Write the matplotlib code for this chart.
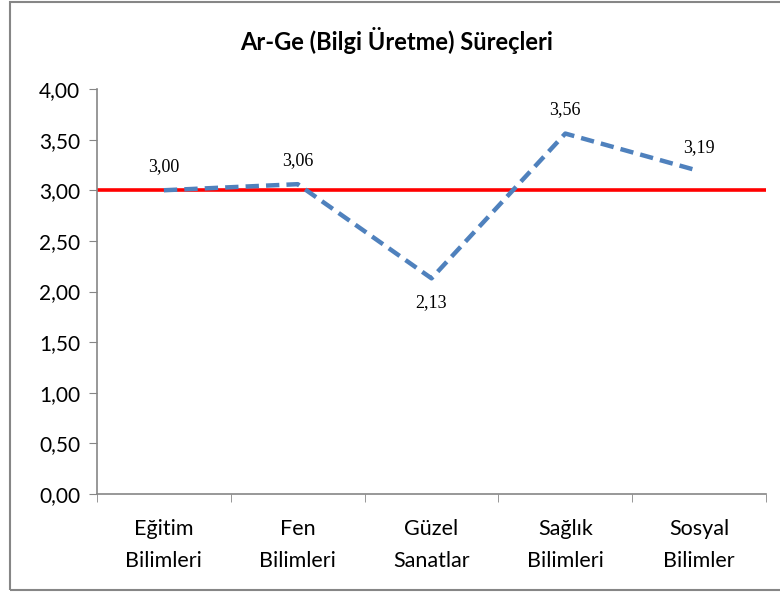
import matplotlib
matplotlib.use("Agg")
import matplotlib.pyplot as plt
from matplotlib.patches import Rectangle
from matplotlib.ticker import FixedLocator, FuncFormatter

categories = ["Eğitim\nBilimleri", "Fen\nBilimleri", "Güzel\nSanatlar",
              "Sağlık\nBilimleri", "Sosyal\nBilimler"]
values = [3.00, 3.06, 2.13, 3.56, 3.19]
reference = 3.00
yticks = [0, 0.5, 1.0, 1.5, 2.0, 2.5, 3.0, 3.5, 4.0]

SANS = ["Lato", "DejaVu Sans"]
SERIF = ["Liberation Serif", "DejaVu Serif"]

fig = plt.figure(figsize=(7.8, 5.96), dpi=100)
fig.patches.append(Rectangle((10 / 780, 6 / 596), 1.0, 588 / 596,
                             transform=fig.transFigure, fill=False,
                             edgecolor="#868686", lw=1.5))
ax = fig.add_axes([97 / 780, 1 - 494 / 596, 669 / 780, 405 / 596])

x = list(range(len(categories)))
ax.axhline(reference, color="#FF0000", lw=2.6, zorder=2)
ax.plot(x, values, color="#4F81BD", lw=3.2, dashes=(3, 1.6), zorder=3)

for xi, v in zip(x, values):
    dy = -11 if v < reference else 11
    ax.annotate(f"{v:.2f}".replace(".", ","), (xi, v), xytext=(0, dy),
                textcoords="offset points", ha="center",
                va="top" if dy < 0 else "bottom",
                fontsize=13, family=SERIF)

ax.set_xlim(-0.5, len(categories) - 0.5)
ax.set_ylim(0, 4)
ax.set_yticks(yticks)
ax.yaxis.set_major_formatter(FuncFormatter(lambda v, _: f"{v:.2f}".replace(".", ",")))
ax.set_xticks(x)
ax.set_xticklabels(categories, family=SANS, fontsize=15.5, linespacing=1.75)
ax.xaxis.set_minor_locator(FixedLocator([i - 0.5 for i in range(len(categories) + 1)]))
ax.tick_params(axis="x", which="major", length=0, pad=18)
ax.tick_params(axis="x", which="minor", length=6, color="#868686")
ax.tick_params(axis="y", length=6, color="#868686", labelsize=15, pad=6)
for lab in ax.get_yticklabels():
    lab.set_family(SANS)

for s in ("top", "right"):
    ax.spines[s].set_visible(False)
for s in ("left", "bottom"):
    ax.spines[s].set_color("#868686")
    ax.spines[s].set_linewidth(1.2)

fig.text(397 / 780, 1 - 40 / 596, "Ar-Ge (Bilgi Üretme) Süreçleri",
         ha="center", va="center", fontsize=17, fontweight="bold", family=SANS)

fig.savefig("out.png", dpi=100)
